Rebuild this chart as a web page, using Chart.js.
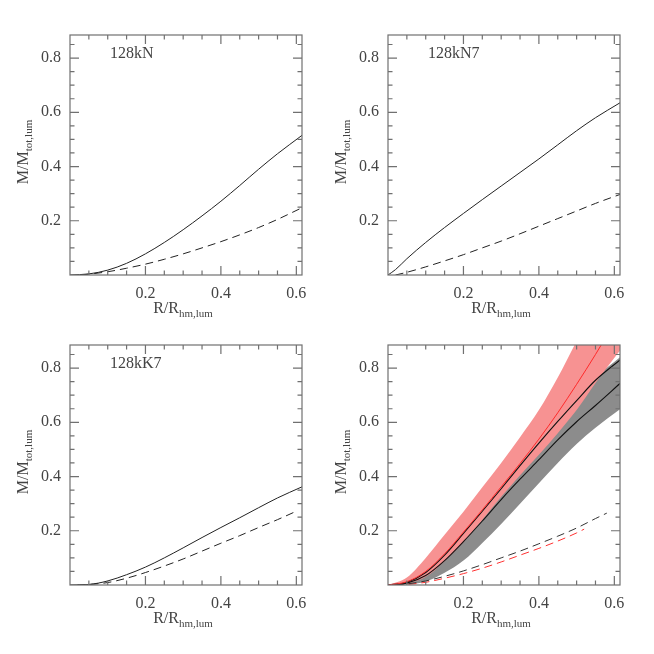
<!DOCTYPE html>
<html>
<head>
<meta charset="utf-8">
<script src="https://cdn.jsdelivr.net/npm/chart.js@4.4.1/dist/chart.umd.min.js"></script>
<style>
  body { margin: 0; background: #fff; }
  #wrap { position: relative; width: 654px; height: 654px; }
  canvas { position: absolute; }
</style>
</head>
<body>
<div id="wrap">
  <canvas id="c1" width="320" height="325" style="left:0;top:0"></canvas>
  <canvas id="c2" width="320" height="325" style="left:318px;top:0"></canvas>
  <canvas id="c3" width="320" height="325" style="left:0;top:310px"></canvas>
  <canvas id="c4" width="320" height="325" style="left:318px;top:310px"></canvas>
</div>
<script>
// Datos (R/Rhm,lum contra M/Mtot,lum)
var xGrid = [0, 0.05, 0.1, 0.15, 0.2, 0.25, 0.3, 0.35, 0.4, 0.45, 0.5, 0.55, 0.615];

// 128kN
var nSolid  = [0, 0.004, 0.018, 0.043, 0.078, 0.12, 0.167, 0.218, 0.272, 0.33, 0.39, 0.447, 0.515];
var nDashX  = [0.03, 0.05, 0.1, 0.15, 0.2, 0.25, 0.3, 0.35, 0.4, 0.45, 0.5, 0.55, 0.615];
var nDashed = [0, 0.003, 0.012, 0.025, 0.04, 0.058, 0.078, 0.1, 0.123, 0.148, 0.175, 0.205, 0.248];

// 128kN7
var n7SolidX = [0, 0.02, 0.05, 0.1, 0.15, 0.2, 0.25, 0.3, 0.35, 0.4, 0.45, 0.5, 0.55, 0.615];
var n7Solid  = [0, 0.02, 0.06, 0.12, 0.175, 0.227, 0.278, 0.328, 0.378, 0.428, 0.48, 0.532, 0.58, 0.635];
var n7DashX  = [0.02, 0.05, 0.1, 0.15, 0.2, 0.25, 0.3, 0.35, 0.4, 0.45, 0.5, 0.55, 0.615];
var n7Dashed = [0, 0.01, 0.03, 0.052, 0.075, 0.1, 0.125, 0.152, 0.18, 0.208, 0.236, 0.264, 0.297];

// 128kK7
var k7Solid  = [0, 0.002, 0.015, 0.038, 0.066, 0.1, 0.137, 0.175, 0.212, 0.248, 0.285, 0.321, 0.362];
var k7DashX  = [0.02, 0.05, 0.1, 0.15, 0.2, 0.25, 0.3, 0.35, 0.4, 0.45, 0.5, 0.55, 0.6];
var k7Dashed = [0, 0.002, 0.009, 0.025, 0.046, 0.07, 0.096, 0.125, 0.154, 0.182, 0.212, 0.241, 0.272];

// panel combinado: bandas y curvas
var redUpper  = [0, 0.028, 0.1, 0.185, 0.27, 0.36, 0.45, 0.545, 0.645, 0.765, 0.9, 1.04, 1.2];
var redLower  = [0, 0.005, 0.03, 0.088, 0.158, 0.24, 0.325, 0.405, 0.48, 0.56, 0.645, 0.745, 0.865];
var greyUpper = [0, 0.012, 0.05, 0.115, 0.195, 0.28, 0.365, 0.45, 0.535, 0.615, 0.69, 0.765, 0.84];
var greyLower = [0, 0.002, 0.013, 0.045, 0.09, 0.155, 0.225, 0.3, 0.375, 0.45, 0.52, 0.58, 0.648];
var redLineX  = [0, 0.05, 0.1, 0.15, 0.2, 0.25, 0.3, 0.35, 0.4, 0.45, 0.5, 0.55, 0.58];
var redLine   = [0, 0.012, 0.05, 0.115, 0.195, 0.277, 0.362, 0.448, 0.538, 0.635, 0.74, 0.85, 0.92];
var blackHigh = [0, 0.01, 0.046, 0.11, 0.19, 0.272, 0.355, 0.44, 0.523, 0.603, 0.68, 0.755, 0.83];
var blackLow  = [0, 0.007, 0.035, 0.09, 0.16, 0.236, 0.315, 0.39, 0.462, 0.535, 0.602, 0.662, 0.743];
var blackDashX = [0.02, 0.05, 0.1, 0.15, 0.2, 0.25, 0.3, 0.35, 0.4, 0.45, 0.5, 0.55, 0.58];
var blackDash  = [0, 0.004, 0.015, 0.032, 0.052, 0.075, 0.1, 0.125, 0.152, 0.18, 0.21, 0.245, 0.265];
var redDashX   = [0.02, 0.05, 0.1, 0.15, 0.2, 0.25, 0.3, 0.35, 0.4, 0.45, 0.5, 0.52];
var redDash    = [0, 0.002, 0.01, 0.025, 0.042, 0.062, 0.085, 0.11, 0.135, 0.162, 0.192, 0.206];

var FONT = '"Liberation Serif", "DejaVu Serif", serif';
var INK = '#444';

function pts(xs, ys) {
    return xs.map(function (x, i) { return { x: x, y: ys[i] }; });
}

function curve(xs, ys, color, dashed, width) {
    return {
        data: pts(xs, ys),
        borderColor: color,
        borderWidth: width || 1,
        borderDash: dashed ? [8, 5] : [],
        pointRadius: 0,
        fill: false,
        cubicInterpolationMode: 'monotone'
    };
}

function band(ys, color, fillTo) {
    return {
        data: pts(xGrid, ys),
        borderWidth: 0,
        borderColor: 'rgba(0,0,0,0)',
        backgroundColor: color,
        pointRadius: 0,
        fill: fillTo,
        cubicInterpolationMode: 'monotone'
    };
}

// texto con subíndice (M/M_tot,lum)
function subText(ctx, main, sub, x, y) {
    ctx.font = '16px ' + FONT;
    var w1 = ctx.measureText(main).width;
    ctx.font = '11px ' + FONT;
    var w2 = ctx.measureText(sub).width;
    var x0 = x - (w1 + w2) / 2;
    ctx.font = '16px ' + FONT;
    ctx.fillText(main, x0, y);
    ctx.font = '11px ' + FONT;
    ctx.fillText(sub, x0 + w1, y + 4);
}

// marco, marcas hacia dentro, títulos y etiqueta del panel
var frameTicks = {
    id: 'frameTicks',
    afterDraw: function (chart) {
        var ctx = chart.ctx, a = chart.chartArea;
        var sx = chart.scales.x, sy = chart.scales.y;
        ctx.save();
        ctx.strokeStyle = '#707070';
        ctx.lineWidth = 1.2;
        ctx.strokeRect(a.left, a.top, a.right - a.left, a.bottom - a.top);
        ctx.beginPath();
        for (var k = 1; k * 0.05 < sx.max; k++) {
            var px = sx.getPixelForValue(k * 0.05);
            var len = k % 4 === 0 ? 9 : 4.5;
            ctx.moveTo(px, a.bottom); ctx.lineTo(px, a.bottom - len);
            ctx.moveTo(px, a.top); ctx.lineTo(px, a.top + len);
        }
        for (var j = 1; j * 0.05 < sy.max; j++) {
            var py = sy.getPixelForValue(j * 0.05);
            var l2 = j % 4 === 0 ? 9 : 4.5;
            ctx.moveTo(a.left, py); ctx.lineTo(a.left + l2, py);
            ctx.moveTo(a.right, py); ctx.lineTo(a.right - l2, py);
        }
        ctx.stroke();

        ctx.fillStyle = INK;
        ctx.textBaseline = 'alphabetic';
        ctx.textAlign = 'left';
        subText(ctx, 'R/R', 'hm,lum', (a.left + a.right) / 2 - 3, a.bottom + 38);

        ctx.save();
        ctx.translate(a.left - 42, (a.top + a.bottom) / 2 - 3);
        ctx.rotate(-Math.PI / 2);
        subText(ctx, 'M/M', 'tot,lum', 0, 0);
        ctx.restore();

        var tag = chart.options.plugins.frameTicks.tag;
        if (tag) {
            ctx.font = '16px ' + FONT;
            ctx.fillText(tag, a.left + 40, a.top + 23);
        }
        ctx.restore();
    }
};

function makeChart(id, datasets, tag) {
    return new Chart(document.getElementById(id).getContext('2d'), {
        type: 'line',
        data: { datasets: datasets },
        plugins: [frameTicks],
        options: {
            responsive: false,
            animation: false,
            layout: { padding: { top: 35, right: 18, left: 0, bottom: 0 } },
            plugins: {
                legend: { display: false },
                tooltip: { enabled: false },
                filler: { drawTime: 'beforeDatasetsDraw' },
                frameTicks: { tag: tag }
            },
            scales: {
                x: {
                    type: 'linear',
                    min: 0,
                    max: 0.615,
                    afterFit: function (s) { s.height = 50; },
                    grid: { display: false, drawTicks: false },
                    border: { display: false },
                    ticks: {
                        stepSize: 0.2,
                        includeBounds: false,
                        padding: 9,
                        color: INK,
                        font: { family: FONT, size: 16 },
                        maxRotation: 0,
                        callback: function (v) { return v < 1e-9 ? '' : v.toFixed(1); }
                    }
                },
                y: {
                    min: 0,
                    max: 0.885,
                    afterFit: function (s) { s.width = 70; },
                    grid: { display: false, drawTicks: false },
                    border: { display: false },
                    ticks: {
                        stepSize: 0.2,
                        includeBounds: false,
                        padding: 9,
                        color: INK,
                        font: { family: FONT, size: 16 },
                        callback: function (v) { return v < 1e-9 ? '' : v.toFixed(1); }
                    }
                }
            }
        }
    });
}

makeChart('c1', [
    curve(xGrid, nSolid, '#222', false),
    curve(nDashX, nDashed, '#222', true)
], '128kN');

makeChart('c2', [
    curve(n7SolidX, n7Solid, '#222', false),
    curve(n7DashX, n7Dashed, '#222', true)
], '128kN7');

makeChart('c3', [
    curve(xGrid, k7Solid, '#222', false),
    curve(k7DashX, k7Dashed, '#222', true)
], '128kK7');

// el primer conjunto se dibuja encima: banda roja sobre la gris
makeChart('c4', [
    curve(redLineX, redLine, '#ff2a2a', false, 1),
    curve(xGrid, blackHigh, '#111', false, 1.1),
    curve(xGrid, blackLow, '#111', false, 1.1),
    curve(blackDashX, blackDash, '#333', true),
    curve(redDashX, redDash, '#ff3030', true),
    band(redUpper, '#f79292', '+1'),
    band(redLower, 'rgba(0,0,0,0)', false),
    band(greyUpper, '#8c8c8c', '+1'),
    band(greyLower, 'rgba(0,0,0,0)', false)
], '');
</script>
</body>
</html>
